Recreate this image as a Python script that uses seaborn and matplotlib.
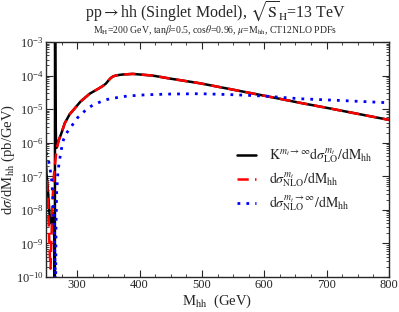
import numpy as np
import pandas as pd
import matplotlib
matplotlib.use("Agg")
import matplotlib.pyplot as plt
import seaborn as sns

# ---- data (log10 of dσ/dM in pb/GeV) ----
m_red = [250, 252, 254, 256, 257.3, 258.5, 260, 261.5, 263, 265, 267, 270, 275, 280, 288,
         296, 305, 320, 335, 341, 346, 350, 354, 358, 364, 372, 389, 421, 449, 497, 550, 600, 657, 700, 750, 800]
lg_red = [-6.6, -7.3, -8.2, -9.3, -9.75, -9.0, -8.0, -7.3, -6.9, -6.55, -6.2, -5.95, -5.7, -5.42, -5.15,
          -4.98, -4.78, -4.54, -4.38, -4.31, -4.24, -4.15, -4.07, -4.02, -3.99, -3.97, -3.95, -4.0, -4.09, -4.23, -4.42, -4.6, -4.81, -4.96, -5.14, -5.32]

m_blk = [250, 253, 256, 258, 261, 263.5, 264.2, 264.5, 265.2, 266, 267, 270, 275, 280, 288,
         296, 305, 320, 335, 341, 346, 350, 354, 358, 364, 372, 389, 421, 449, 497, 550, 600, 657, 700, 750, 800]
lg_blk = [-6.75, -7.4, -8.2, -8.4, -8.1, -8.9, -11.0, -2.0, -5.0, -5.9, -6.15, -5.95, -5.7, -5.42, -5.15,
          -4.98, -4.78, -4.54, -4.38, -4.31, -4.24, -4.15, -4.07, -4.02, -3.99, -3.97, -3.95, -4.0, -4.09, -4.23, -4.42, -4.6, -4.81, -4.96, -5.14, -5.32]

m_blu = [250, 253, 256, 259, 261, 263, 264.5, 265.3, 266, 267, 268, 269, 271, 273.6, 276, 278, 283,
         289.6, 300.8, 308, 315, 325, 340, 352, 380, 412, 450, 497, 550, 600, 657, 720, 800]
lg_blu = [-6.29, -6.45, -6.7, -7.1, -7.6, -8.5, -9.6, -11.0, -8.5, -7.5, -7.2, -6.9, -6.6, -6.3, -6.06, -5.91, -5.71,
          -5.54, -5.25, -5.13, -5.0, -4.88, -4.76, -4.69, -4.61, -4.57, -4.55, -4.54, -4.57, -4.61, -4.69, -4.74, -4.81]

labels = [r"$\mathrm{K}^{m_t\rightarrow\infty}\mathrm{d}\sigma^{m_t}_{\mathrm{LO}}/\mathrm{dM_{hh}}$",
          r"$\mathrm{d}\sigma^{m_t}_{\mathrm{NLO}}/\mathrm{dM_{hh}}$",
          r"$\mathrm{d}\sigma^{m_t\rightarrow\infty}_{\mathrm{NLO}}/\mathrm{dM_{hh}}$"]

sns.set_style("ticks")
plt.rcParams['font.family'] = ['Liberation Serif', 'DejaVu Serif']
plt.rcParams['mathtext.fontset'] = 'stix'

fig = plt.figure(figsize=(3.99, 3.12), dpi=100)
ax = fig.add_axes([0.1153, 0.112, 0.975 - 0.1153, 0.8654 - 0.112])

df_b = pd.DataFrame({"M": m_blk, "y": 10.0 ** np.array(lg_blk)})
df_r = pd.DataFrame({"M": m_red, "y": 10.0 ** np.array(lg_red)})
df_u = pd.DataFrame({"M": m_blu, "y": 10.0 ** np.array(lg_blu)})

sns.lineplot(data=df_b, x="M", y="y", ax=ax, color="black", lw=1.8, sort=False,
             estimator=None, label=labels[0])
sns.lineplot(data=df_r, x="M", y="y", ax=ax, color="#ff0000", lw=1.8, sort=False,
             estimator=None, label=labels[1])
ax.lines[-1].set_linestyle((0, (4.5, 2.5)))
sns.lineplot(data=df_u, x="M", y="y", ax=ax, color="#0000ff", lw=2.0, sort=False,
             estimator=None, label=labels[2])
ax.lines[-1].set_linestyle((0, (1, 2.2)))

ax.set_yscale("log")
ax.set_xlim(250, 800)
ax.set_ylim(1e-10, 1e-3)
ax.set_xticks([300, 400, 500, 600, 700, 800])
ax.xaxis.set_minor_locator(matplotlib.ticker.MultipleLocator(25))
ax.yaxis.set_major_locator(matplotlib.ticker.LogLocator(base=10, numticks=20))
ax.yaxis.set_minor_locator(matplotlib.ticker.LogLocator(base=10, subs=np.arange(2, 10), numticks=20))
ax.yaxis.set_minor_formatter(matplotlib.ticker.NullFormatter())
ax.tick_params(which="both", direction="in", top=True, right=True, labelsize=9)
ax.tick_params(which="major", length=5, width=0.8, pad=1.5)
ax.tick_params(which="minor", length=2.5, width=0.6)
for s in ax.spines.values():
    s.set_linewidth(1.0)

ax.set_xlabel(r"M$_{\mathrm{hh}}$  (GeV)", fontsize=10.5)
ax.set_ylabel(r"d$\sigma$/dM$_{\mathrm{hh}}$ (pb/GeV)", fontsize=10.5)
ax.xaxis.set_label_coords(0.5, -0.068)
ax.yaxis.set_label_coords(-0.085, 0.5)

fig.text(0.54, 0.962, r"pp$\rightarrow$hh (Singlet Model), $\sqrt{\mathrm{S}}_{\mathrm{H}}$=13 TeV",
         ha="center", va="center", fontsize=11.5)
fig.text(0.54, 0.903, r"M$_{\mathrm{H}}$=200 GeV, tan$\beta$=0.5, cos$\theta$=0.96, $\mu$=M$_{\mathrm{hh}}$, CT12NLO PDFs",
         ha="center", va="center", fontsize=7)

leg = ax.legend(loc="upper left", bbox_to_anchor=(0.54, 0.58), frameon=False, fontsize=10,
                handlelength=1.4, handletextpad=0.9, labelspacing=0.35, borderaxespad=0)

fig.savefig("out.png", dpi=100)
